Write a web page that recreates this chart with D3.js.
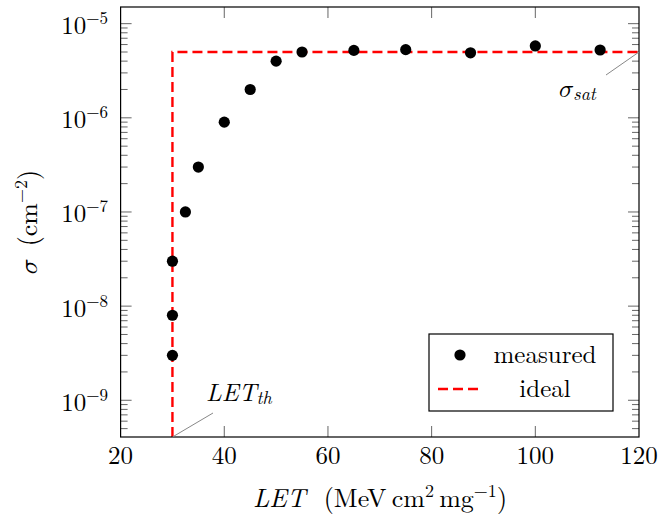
<!DOCTYPE html>
<html>
  <head>
    <meta charset="utf-8">
    <title>Cross section vs LET</title>
  </head>
  <body style="margin:0; background:#fff">
    <svg id="chart" width="662" height="521"></svg>
  </body>
  <script type="text/javascript" src="https://cdn.jsdelivr.net/npm/d3@7"></script>
  <script type="text/javascript">
    // measured points
    const letValues   = [30, 30, 30, 32.5, 35, 40, 45, 50, 55, 65, 75, 87.5, 100, 112.5];
    const sigmaValues = [3e-9, 8e-9, 3e-8, 1e-7, 3e-7, 9e-7, 2e-6, 4e-6, 5e-6, 5.2e-6, 5.3e-6, 4.9e-6, 5.8e-6, 5.25e-6];

    const xDomain = [20, 120];
    const yDomain = [Math.pow(10, -9.39), Math.pow(10, -4.823)];

    // ideal step curve
    const letThreshold = 30;
    const sigmaSat = 5e-6;
    const idealLet   = [letThreshold, letThreshold, xDomain[1]];
    const idealSigma = [yDomain[0], sigmaSat, sigmaSat];

    const xTicks = [20, 40, 60, 80, 100, 120];
    const yExponents = [-9, -8, -7, -6, -5];
    const legendLabels = ["measured", "ideal"];

    const FONT = "'Latin Modern Roman', 'CMU Serif', 'Liberation Serif', serif";
    const MATH = "'Latin Modern Math', 'Latin Modern Roman', serif";
    const SIGMA = "\u{1D70E}"; // math italic sigma

    const svg = d3.select("#chart").attr("font-family", FONT);
    const margin = {left: 120.6, right: 23, top: 7, bottom: 84};
    const W = 662, H = 521;

    const x = d3.scaleLinear().domain(xDomain).range([margin.left, W - margin.right]);
    const y = d3.scaleLog().domain(yDomain).range([H - margin.bottom, margin.top]);

    const x0 = x.range()[0], x1 = x.range()[1];
    const yb = y.range()[0], yt = y.range()[1];

    // minor/major ticks for y (both sides)
    const minorY = [];
    for (let e = -10; e <= -4; e++) {
      for (let m = 2; m <= 9; m++) {
        const v = m * Math.pow(10, e);
        if (v > yDomain[0] && v < yDomain[1]) minorY.push(v);
      }
    }
    const majorY = yExponents.map(e => Math.pow(10, e));

    const ticks = svg.append("g").attr("stroke", "#666").attr("stroke-width", 1);
    minorY.forEach(v => {
      ticks.append("line").attr("x1", x0).attr("x2", x0 + 7).attr("y1", y(v)).attr("y2", y(v));
      ticks.append("line").attr("x1", x1).attr("x2", x1 - 7).attr("y1", y(v)).attr("y2", y(v));
    });
    majorY.forEach(v => {
      ticks.append("line").attr("x1", x0).attr("x2", x0 + 11).attr("y1", y(v)).attr("y2", y(v));
      ticks.append("line").attr("x1", x1).attr("x2", x1 - 11).attr("y1", y(v)).attr("y2", y(v));
    });
    xTicks.slice(1, -1).forEach(v => {
      ticks.append("line").attr("x1", x(v)).attr("x2", x(v)).attr("y1", yb).attr("y2", yb - 11);
      ticks.append("line").attr("x1", x(v)).attr("x2", x(v)).attr("y1", yt).attr("y2", yt + 11);
    });

    // tick labels
    xTicks.forEach(v => {
      svg.append("text").attr("x", x(v)).attr("y", yb + 27)
        .attr("text-anchor", "middle").attr("font-size", 25).text(v);
    });
    yExponents.forEach(e => {
      const t = svg.append("text").attr("x", 108).attr("y", y(Math.pow(10, e)) + 10.5)
        .attr("text-anchor", "end").attr("font-size", 25);
      t.append("tspan").text("10");
      t.append("tspan").attr("dy", -10).attr("font-size", 17).text("\u2212" + (-e));
    });

    // ideal curve
    const line = d3.line().x(d => x(d[0])).y(d => y(d[1]));
    svg.append("path")
      .datum(d3.zip(idealLet, idealSigma))
      .attr("d", line)
      .attr("fill", "none")
      .attr("stroke", "#ff0000")
      .attr("stroke-width", 2.4)
      .attr("stroke-dasharray", "10,5");

    // measured markers
    svg.append("g").selectAll("circle")
      .data(d3.zip(letValues, sigmaValues))
      .join("circle")
      .attr("cx", d => x(d[0]))
      .attr("cy", d => y(d[1]))
      .attr("r", 5.6)
      .attr("fill", "#000");

    // frame
    svg.append("rect")
      .attr("x", x0).attr("y", yt).attr("width", x1 - x0).attr("height", yb - yt)
      .attr("fill", "none").attr("stroke", "#000").attr("stroke-width", 1.2);

    // annotations
    const ann = svg.append("g");
    ann.append("line")
      .attr("x1", x(xDomain[1])).attr("y1", y(sigmaSat)).attr("x2", 606).attr("y2", 75)
      .attr("stroke", "#888").attr("stroke-width", 1);
    const sat = ann.append("text").attr("x", 559).attr("y", 97).attr("font-size", 25);
    sat.append("tspan").attr("font-family", MATH).text(SIGMA);
    sat.append("tspan").attr("font-style", "italic").attr("font-size", 18).attr("dy", 3).text("sat");

    ann.append("line")
      .attr("x1", x(letThreshold)).attr("y1", yb).attr("x2", 213).attr("y2", 413)
      .attr("stroke", "#888").attr("stroke-width", 1);
    const th = ann.append("text").attr("x", 206).attr("y", 401).attr("font-size", 25);
    th.append("tspan").attr("font-style", "italic").text("LET");
    th.append("tspan").attr("font-style", "italic").attr("font-size", 18).attr("dy", 3).text("th");

    // axis labels
    const xl = svg.append("text").attr("x", 380).attr("y", 507)
      .attr("text-anchor", "middle").attr("font-size", 26);
    xl.append("tspan").attr("font-style", "italic").text("LET");
    xl.append("tspan").text("\u2002\u2009(MeV\u2009cm");
    xl.append("tspan").attr("font-size", 18).attr("dy", -10).text("2");
    xl.append("tspan").attr("dy", 10).text("\u2009mg");
    xl.append("tspan").attr("font-size", 18).attr("dy", -10).text("\u22121");
    xl.append("tspan").attr("dy", 10).text(")");

    const yl = svg.append("text")
      .attr("transform", "translate(37," + ((yb + yt) / 2) + ") rotate(-90)")
      .attr("text-anchor", "middle").attr("font-size", 26);
    yl.append("tspan").attr("font-family", MATH).text(SIGMA);
    yl.append("tspan").text("\u2002(cm");
    yl.append("tspan").attr("font-size", 18).attr("dy", -10).text("\u22122");
    yl.append("tspan").attr("dy", 10).text(")");

    // legend
    const lg = svg.append("g");
    lg.append("rect").attr("x", 429).attr("y", 334).attr("width", 184).attr("height", 77)
      .attr("fill", "#fff").attr("stroke", "#000").attr("stroke-width", 1.2);
    lg.append("circle").attr("cx", 460).attr("cy", 355).attr("r", 5.6).attr("fill", "#000");
    lg.append("line").attr("x1", 438).attr("x2", 478).attr("y1", 389).attr("y2", 389)
      .attr("stroke", "#ff0000").attr("stroke-width", 2.4).attr("stroke-dasharray", "10,5");
    lg.selectAll("text.lab").data(legendLabels).join("text")
      .attr("class", "lab")
      .attr("x", 545).attr("y", (d, i) => 363 + i * 34)
      .attr("text-anchor", "middle").attr("font-size", 25)
      .text(d => d);
  </script>
</html>
